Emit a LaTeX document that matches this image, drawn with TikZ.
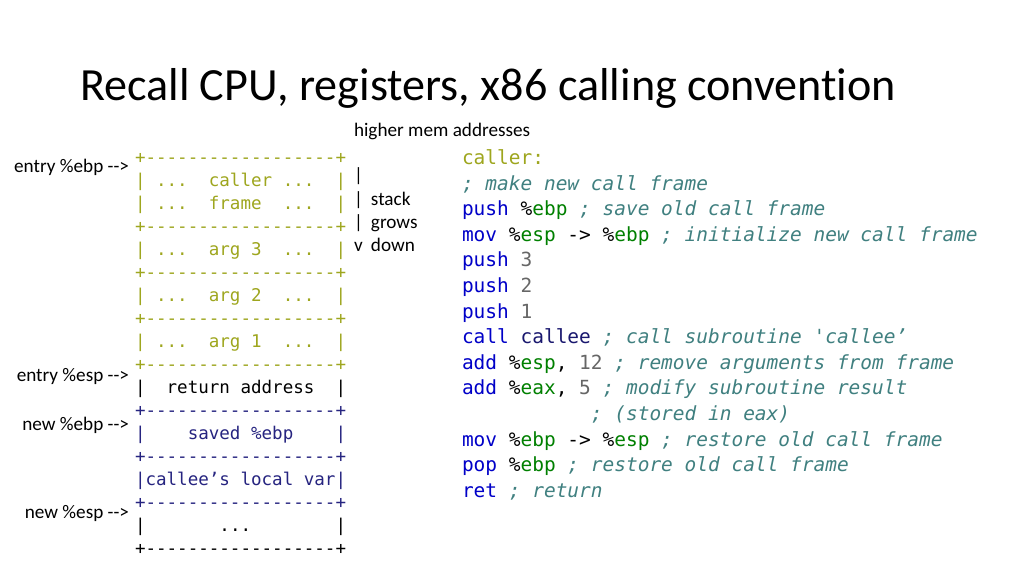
\documentclass[tikz,border=0pt]{standalone}
\usepackage{fontspec}
\setmainfont{Carlito}[Ligatures=NoCommon]
\setmonofont{DejaVu Sans Mono}
\definecolor{cOlive}{RGB}{158,166,30}
\definecolor{cNavy}{RGB}{38,36,128}
\definecolor{cKw}{RGB}{0,0,200}
\definecolor{cReg}{RGB}{0,128,0}
\definecolor{cCmt}{RGB}{64,128,128}
\definecolor{cNum}{RGB}{102,102,102}
\definecolor{cCallee}{RGB}{25,23,110}
\newcommand\stackfont{\ttfamily\fontsize{13.15}{15}\selectfont}
\newcommand\codefont{\ttfamily\fontsize{14.6}{17}\selectfont}
\newcommand\labfont{\fontsize{14.4}{16}\selectfont}
\newcommand\ckw[1]{\textcolor{cKw}{#1}}
\newcommand\creg[1]{\%\textcolor{cReg}{#1}}
\newcommand\ccmt[1]{\textcolor{cCmt}{\itshape #1}}
\newcommand\cnum[1]{\textcolor{cNum}{#1}}
\newcommand\arr{-\kern0pt-\kern0pt>}
\tikzset{
  ln/.style={anchor=base west, inner sep=0pt, outer sep=0pt},
  rn/.style={anchor=base east, inner sep=0pt, outer sep=0pt},
  stk/.style={ln, font=\stackfont},
  cd/.style={ln, font=\codefont},
  lab/.style={rn, font=\labfont},
  side/.style={ln, font=\labfont},
}
\begin{document}
\begin{tikzpicture}[x=0.75pt,y=-0.75pt]
\useasboundingbox (0,0) rectangle (1024,576);
\fill[white] (0,0) rectangle (1024,576);
% title
\node[ln, font=\fontsize{34.6}{40}\selectfont] (title) at (80,100) {Recall CPU, registers, x86 calling convention};
\node[side] (higher) at (354,136) {higher mem addresses};
% stack
\def\sx{135}
\node[stk, text=cOlive] (s0) at (\sx,163) {+------------------+};
\node[stk, text=cOlive] (s1) at (\sx,186) {|~...~~caller~...~~|};
\node[stk, text=cOlive] (s2) at (\sx,209) {|~...~~frame~~...~~|};
\node[stk, text=cOlive] (s3) at (\sx,232) {+------------------+};
\node[stk, text=cOlive] (s4) at (\sx,255) {|~...~~arg~3~~...~~|};
\node[stk, text=cOlive] (s5) at (\sx,278) {+------------------+};
\node[stk, text=cOlive] (s6) at (\sx,301) {|~...~~arg~2~~...~~|};
\node[stk, text=cOlive] (s7) at (\sx,324) {+------------------+};
\node[stk, text=cOlive] (s8) at (\sx,347) {|~...~~arg~1~~...~~|};
\node[stk, text=cOlive] (s9) at (\sx,370) {+------------------+};
\node[stk, text=black] (s10) at (\sx,393) {|~~return~address~~|};
\node[stk, text=cNavy] (s11) at (\sx,416) {+------------------+};
\node[stk, text=cNavy] (s12) at (\sx,439) {|~~~~saved~\%ebp~~~~|};
\node[stk, text=cNavy] (s13) at (\sx,462) {+------------------+};
\node[stk, text=cNavy] (s14) at (\sx,485) {|callee’s~local~var|};
\node[stk, text=cNavy] (s15) at (\sx,508) {+------------------+};
\node[stk, text=black] (s16) at (\sx,531) {|~~~~~~~...~~~~~~~~|};
\node[stk, text=black] (s17) at (\sx,554) {+------------------+};
% pointer labels
\node[lab] (lebp) at (129,172) {entry \%ebp \arr};
\node[lab] (lesp) at (129,381) {entry \%esp \arr};
\node[lab] (nebp) at (129,430) {new \%ebp \arr};
\node[lab] (nesp) at (129,518) {new \%esp \arr};
% grows down
\node[side] (g0) at (354,181) {|};
\node[side] (g1) at (354,205) {\makebox[12.75pt][l]{|}stack};
\node[side] (g2) at (354,228) {\makebox[12.75pt][l]{|}grows};
\node[side] (g3) at (354,251) {\makebox[12.75pt][l]{v}down};
% code
\def\cx{462}
\node[cd, text=cOlive] (c0) at (\cx,164.5) {caller:};
\node[cd] (c1) at (\cx,190.1) {\ccmt{; make new call frame}};
\node[cd] (c2) at (\cx,215.7) {\ckw{push} \creg{ebp} \ccmt{; save old call frame}};
\node[cd] (c3) at (\cx,241.3) {\ckw{mov} \creg{esp} -> \creg{ebp} \ccmt{; initialize new call frame}};
\node[cd] (c4) at (\cx,266.9) {\ckw{push} \cnum{3}};
\node[cd] (c5) at (\cx,292.5) {\ckw{push} \cnum{2}};
\node[cd] (c6) at (\cx,318.1) {\ckw{push} \cnum{1}};
\node[cd] (c7) at (\cx,343.7) {\ckw{call} \textcolor{cCallee}{callee} \ccmt{; call subroutine 'callee’}};
\node[cd] (c8) at (\cx,369.3) {\ckw{add} \creg{esp}, \cnum{12} \ccmt{; remove arguments from frame}};
\node[cd] (c9) at (\cx,394.9) {\ckw{add} \creg{eax}, \cnum{5} \ccmt{; modify subroutine result}};
\node[cd] (c10) at (\cx,420.5) {~~~~~~~~~~~\ccmt{; (stored in eax)}};
\node[cd] (c11) at (\cx,446.1) {\ckw{mov} \creg{ebp} -> \creg{esp} \ccmt{; restore old call frame}};
\node[cd] (c12) at (\cx,471.7) {\ckw{pop} \creg{ebp} \ccmt{; restore old call frame}};
\node[cd] (c13) at (\cx,497.3) {\ckw{ret} \ccmt{; return}};
\end{tikzpicture}
\end{document}
